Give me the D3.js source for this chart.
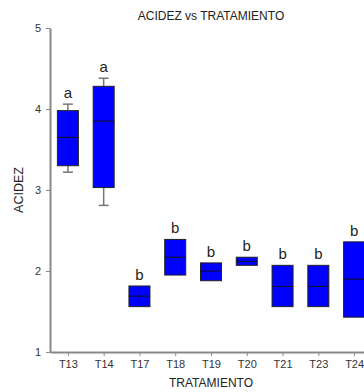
<!DOCTYPE html>
<html><head><meta charset="utf-8">
<script src="https://cdn.jsdelivr.net/npm/d3@7"></script>
<style>
html,body{margin:0;padding:0;background:#fff;}
svg{display:block;font-family:Arial,"Liberation Sans",sans-serif;}
</style></head>
<body><svg id="c" width="364" height="392"></svg>
<script>
const categories = ["T13","T14","T17","T18","T19","T20","T21","T23","T24"];
const whiskerLow = [3.22, 2.81, null, null, null, null, null, null, null];
const q1 =        [3.30, 3.03, 1.56, 1.95, 1.88, 2.07, 1.56, 1.56, 1.43];
const median =    [3.65, 3.85, 1.69, 2.17, 2.00, 2.12, 1.81, 1.81, 1.90];
const q3 =        [3.98, 4.28, 1.815, 2.39, 2.10, 2.17, 2.07, 2.07, 2.36];
const whiskerHigh = [4.06, 4.38, null, null, null, null, null, null, null];
const groups = ["a","a","b","b","b","b","b","b","b"];
const yTicks = [1, 2, 3, 4, 5];

const svg = d3.select("#c");
const x = d3.scalePoint().domain(categories).range([50, 372]).padding(0.5);
const y = d3.scaleLinear().domain([1, 5]).range([352, 28]);

// title
svg.append("text").attr("x", 211).attr("y", 20).attr("text-anchor", "middle")
  .attr("font-size", 12).attr("fill", "#222").text("ACIDEZ vs TRATAMIENTO");

// y axis
const ya = svg.append("g").attr("transform", "translate(50,0)")
  .call(d3.axisLeft(y).tickValues(yTicks).tickFormat(d3.format("d")).tickSize(4).tickPadding(5).tickSizeOuter(0));
ya.select(".domain").attr("stroke", "#888").attr("stroke-width", 2);
ya.selectAll(".tick line").attr("stroke", "#888");
ya.selectAll(".tick text").attr("font-size", 11).attr("fill", "#333").attr("font-family", "Arial, sans-serif");

// x axis
const xa = svg.append("g").attr("transform", "translate(0,352)")
  .call(d3.axisBottom(x).tickSize(4).tickPadding(4).tickSizeOuter(0));
xa.select(".domain").attr("stroke", "#888").attr("stroke-width", 2);
xa.selectAll(".tick line").attr("stroke", "#888");
xa.selectAll(".tick text").attr("font-size", 11).attr("fill", "#333").attr("font-family", "Arial, sans-serif");

// axis titles
svg.append("text").attr("x", 211).attr("y", 387).attr("text-anchor", "middle")
  .attr("font-size", 12).attr("fill", "#222").text("TRATAMIENTO");
svg.append("text").attr("transform", "translate(23,190) rotate(-90)").attr("text-anchor", "middle")
  .attr("font-size", 12.5).attr("fill", "#222").text("ACIDEZ");

const bw = 21, cap = 10;
const data = categories.map((c, i) => ({c, lo: whiskerLow[i], q1: q1[i], med: median[i], q3: q3[i], hi: whiskerHigh[i], g: groups[i]}));
const gBox = svg.append("g");
data.forEach(d => {
  const cx = x(d.c);
  const g = gBox.append("g");
  if (d.hi != null) {
    g.append("line").attr("x1", cx).attr("x2", cx).attr("y1", y(d.q3)).attr("y2", y(d.hi)).attr("stroke", "#777").attr("stroke-width", 1.5);
    g.append("line").attr("x1", cx - cap/2).attr("x2", cx + cap/2).attr("y1", y(d.hi)).attr("y2", y(d.hi)).attr("stroke", "#777").attr("stroke-width", 1.5);
  }
  if (d.lo != null) {
    g.append("line").attr("x1", cx).attr("x2", cx).attr("y1", y(d.q1)).attr("y2", y(d.lo)).attr("stroke", "#777").attr("stroke-width", 1.5);
    g.append("line").attr("x1", cx - cap/2).attr("x2", cx + cap/2).attr("y1", y(d.lo)).attr("y2", y(d.lo)).attr("stroke", "#777").attr("stroke-width", 1.5);
  }
  g.append("rect").attr("x", cx - bw/2).attr("y", y(d.q3)).attr("width", bw).attr("height", y(d.q1) - y(d.q3))
    .attr("fill", "#0000FF").attr("stroke", "#222").attr("stroke-width", 1);
  g.append("line").attr("x1", cx - bw/2).attr("x2", cx + bw/2).attr("y1", y(d.med)).attr("y2", y(d.med)).attr("stroke", "#111").attr("stroke-width", 1);
  const top = d.hi != null ? d.hi : d.q3;
  g.append("text").attr("x", cx).attr("y", y(top) - 6).attr("text-anchor", "middle")
    .attr("font-size", 15).attr("fill", "#222").text(d.g);
});
</script></body></html>
